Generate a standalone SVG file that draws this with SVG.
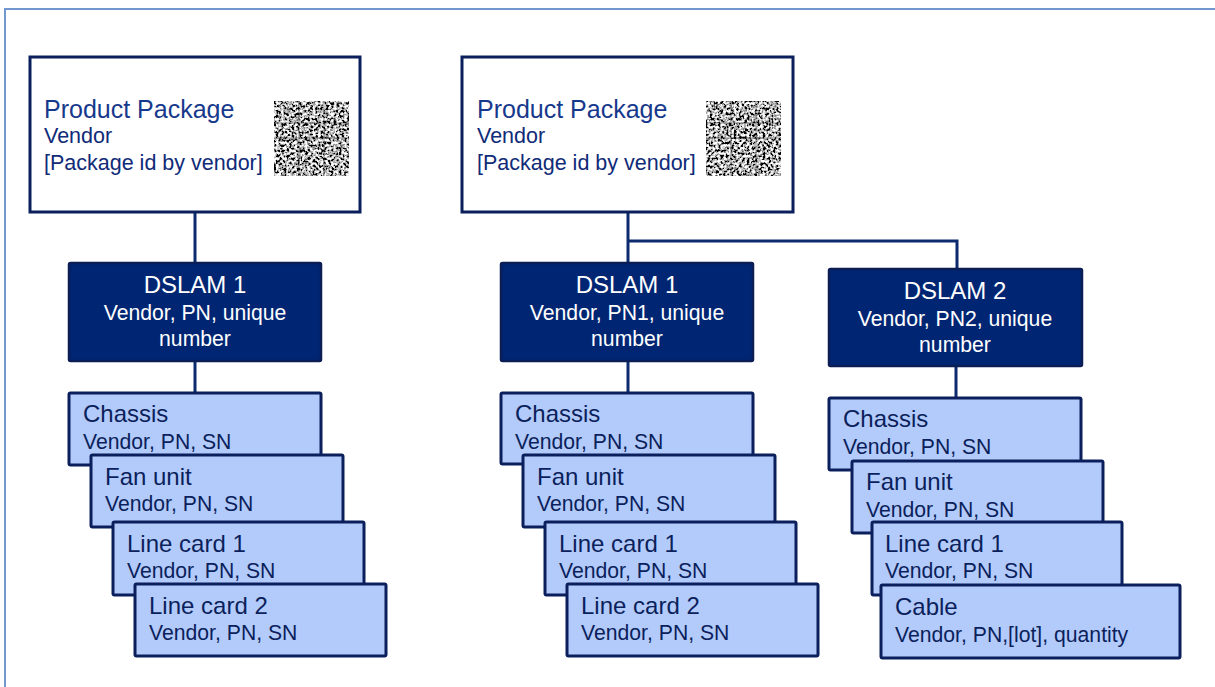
<svg xmlns="http://www.w3.org/2000/svg" width="1215" height="687" viewBox="0 0 1215 687">
  <style>
    text { font-family: "Liberation Sans", Arial, sans-serif; }
    .pkg { fill: #ffffff; stroke: #0b1f5c; stroke-width: 3; }
    .pt { font-size: 25px; fill: #17398c; }
    .ps { font-size: 21.5px; fill: #102b78; }
    .dslam { fill: #002673; stroke: #0b1d55; stroke-width: 2.5; }
    .dt { font-size: 24px; fill: #ffffff; text-anchor: middle; }
    .ds { font-size: 21.2px; fill: #ffffff; text-anchor: middle; }
    .part { fill: #b3cbfa; stroke: #0b1f5c; stroke-width: 3; }
    .lt { font-size: 24px; fill: #0b1f5c; }
    .ls { font-size: 21.2px; fill: #0b1f5c; }
    .conn { stroke: #0d2a6e; stroke-width: 3; fill: none; }
    .frame { stroke: #7297cf; stroke-width: 2; fill: none; }
  </style>
  <defs>
    <filter id="noise" x="0" y="0" width="1" height="1" filterUnits="objectBoundingBox">
      <feTurbulence type="fractalNoise" baseFrequency="0.38" numOctaves="2" seed="5" result="t"/>
      <feColorMatrix in="t" type="matrix" values="3.6 0 0 0 -1.35  3.6 0 0 0 -1.35  3.6 0 0 0 -1.35  0 0 0 0 1"/>
    </filter>
  </defs>
  <rect width="1215" height="687" fill="#ffffff"/>
  <path class="frame" d="M5,687 V9 H1215"/>

  <g id="connectors">
    <path class="conn" d="M195,212 V263"/>
    <path class="conn" d="M195,361 V393"/>
    <path class="conn" d="M628,212 V263"/>
    <path class="conn" d="M628,241 H957 V269"/>
    <path class="conn" d="M628,361 V393"/>
    <path class="conn" d="M956,366 V398"/>
  </g>

  <g id="package1">
    <rect class="pkg" x="30" y="57" width="330" height="155"/>
    <text class="pt" x="44" y="118">Product Package</text>
    <text class="ps" x="44" y="143">Vendor</text>
    <text class="ps" x="44" y="170">[Package id by vendor]</text>
    <g id="code1">
      <rect x="274" y="101" width="75" height="75" fill="#808080" filter="url(#noise)"/>
      <path d="M274,138 H349 M299,101 V176 M324,101 V176 M274,123 H349" stroke="#111" stroke-width="1" opacity="0.5"/>
    </g>
  </g>

  <g id="package2">
    <rect class="pkg" x="462" y="57" width="331" height="155"/>
    <text class="pt" x="477" y="118">Product Package</text>
    <text class="ps" x="477" y="143">Vendor</text>
    <text class="ps" x="477" y="170">[Package id by vendor]</text>
    <g id="code2">
      <rect x="706" y="101" width="75" height="75" fill="#808080" filter="url(#noise)"/>
      <path d="M706,138 H781 M731,101 V176 M756,101 V176 M706,123 H781" stroke="#111" stroke-width="1" opacity="0.5"/>
    </g>
  </g>

  <g id="dslam1a">
    <rect class="dslam" x="69" y="263" width="252" height="98" rx="1.5"/>
    <text class="dt" x="195" y="293">DSLAM 1</text>
    <text class="ds" x="195" y="320">Vendor, PN, unique</text>
    <text class="ds" x="195" y="346">number</text>
  </g>
  <g id="dslam1b">
    <rect class="dslam" x="501" y="263" width="252" height="98" rx="1.5"/>
    <text class="dt" x="627" y="293">DSLAM 1</text>
    <text class="ds" x="627" y="320">Vendor, PN1, unique</text>
    <text class="ds" x="627" y="346">number</text>
  </g>
  <g id="dslam2">
    <rect class="dslam" x="829" y="269" width="253" height="97" rx="1.5"/>
    <text class="dt" x="955" y="299">DSLAM 2</text>
    <text class="ds" x="955" y="326">Vendor, PN2, unique</text>
    <text class="ds" x="955" y="352">number</text>
  </g>

  <!-- left column parts -->
  <g id="chassis-a">
    <rect class="part" x="69" y="393" width="252" height="72" rx="1.5"/>
    <text class="lt" x="83" y="422">Chassis</text>
    <text class="ls" x="83" y="449">Vendor, PN, SN</text>
  </g>
  <g id="fan-a">
    <rect class="part" x="91" y="455" width="252" height="72" rx="1.5"/>
    <text class="lt" x="105" y="485">Fan unit</text>
    <text class="ls" x="105" y="511">Vendor, PN, SN</text>
  </g>
  <g id="lc1-a">
    <rect class="part" x="113" y="522" width="251" height="73" rx="1.5"/>
    <text class="lt" x="127" y="552">Line card 1</text>
    <text class="ls" x="127" y="578">Vendor, PN, SN</text>
  </g>
  <g id="lc2-a">
    <rect class="part" x="135" y="584" width="251" height="72" rx="1.5"/>
    <text class="lt" x="149" y="614">Line card 2</text>
    <text class="ls" x="149" y="640">Vendor, PN, SN</text>
  </g>

  <!-- middle column parts -->
  <g id="chassis-b">
    <rect class="part" x="501" y="393" width="252" height="71" rx="1.5"/>
    <text class="lt" x="515" y="422">Chassis</text>
    <text class="ls" x="515" y="449">Vendor, PN, SN</text>
  </g>
  <g id="fan-b">
    <rect class="part" x="523" y="455" width="252" height="72" rx="1.5"/>
    <text class="lt" x="537" y="485">Fan unit</text>
    <text class="ls" x="537" y="511">Vendor, PN, SN</text>
  </g>
  <g id="lc1-b">
    <rect class="part" x="545" y="522" width="251" height="73" rx="1.5"/>
    <text class="lt" x="559" y="552">Line card 1</text>
    <text class="ls" x="559" y="578">Vendor, PN, SN</text>
  </g>
  <g id="lc2-b">
    <rect class="part" x="567" y="584" width="251" height="72" rx="1.5"/>
    <text class="lt" x="581" y="614">Line card 2</text>
    <text class="ls" x="581" y="640">Vendor, PN, SN</text>
  </g>

  <!-- right column parts -->
  <g id="chassis-c">
    <rect class="part" x="829" y="398" width="252" height="72" rx="1.5"/>
    <text class="lt" x="843" y="427">Chassis</text>
    <text class="ls" x="843" y="454">Vendor, PN, SN</text>
  </g>
  <g id="fan-c">
    <rect class="part" x="852" y="461" width="251" height="72" rx="1.5"/>
    <text class="lt" x="866" y="490">Fan unit</text>
    <text class="ls" x="866" y="517">Vendor, PN, SN</text>
  </g>
  <g id="lc1-c">
    <rect class="part" x="872" y="522" width="250" height="73" rx="1.5"/>
    <text class="lt" x="885" y="552">Line card 1</text>
    <text class="ls" x="885" y="578">Vendor, PN, SN</text>
  </g>
  <g id="cable-c">
    <rect class="part" x="881" y="585" width="299" height="73" rx="1.5"/>
    <text class="lt" x="895" y="615">Cable</text>
    <text class="ls" x="895" y="642">Vendor, PN,[lot], quantity</text>
  </g>
</svg>
